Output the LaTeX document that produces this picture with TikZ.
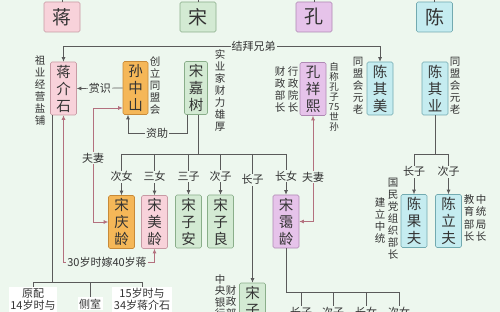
\documentclass[tikz,border=0pt]{standalone}
\usepackage{fontspec}
\setmainfont{Noto Sans CJK SC}
\usetikzlibrary{arrows.meta}
\definecolor{bg}{HTML}{EDF7EE}
\definecolor{pinkF}{HTML}{F8D2DA}
\definecolor{pinkD}{HTML}{C79AA4}
\definecolor{greenF}{HTML}{D3EAD3}
\definecolor{greenD}{HTML}{8AAE8A}
\definecolor{purF}{HTML}{E6C3EA}
\definecolor{purD}{HTML}{AE88B3}
\definecolor{cyanF}{HTML}{C5ECF0}
\definecolor{cyanD}{HTML}{72AAB0}
\definecolor{oraF}{HTML}{F5B758}
\definecolor{oraD}{HTML}{C88A38}
\definecolor{lineC}{HTML}{5A5A5A}
\definecolor{wifeC}{HTML}{B3707E}
\definecolor{txt}{HTML}{333333}
\tikzset{
  box/.style={draw, rounded corners=1.5pt, line width=0.6pt, minimum width=26pt, minimum height=53pt, inner sep=0pt, align=center, font=\fontsize{14.5}{17}\selectfont, text=txt},
  fam/.style={draw, rounded corners=1.5pt, line width=0.6pt, minimum width=36pt, minimum height=30pt, inner sep=0pt, font=\fontsize{19}{20}\selectfont, text=txt},
  pinkb/.style={fill=pinkF, draw=pinkD},
  greenb/.style={fill=greenF, draw=greenD},
  purb/.style={fill=purF, draw=purD},
  cyanb/.style={fill=cyanF, draw=cyanD},
  orab/.style={fill=oraF, draw=oraD},
  vt/.style={anchor=north, align=center, inner sep=0pt, font=\fontsize{10.5}{12}\selectfont, text=txt},
  lbl/.style={fill=bg, inner sep=1pt, font=\fontsize{11}{12}\selectfont, text=txt},
  blbl/.style={fill=white, inner sep=1.5pt, align=center, font=\fontsize{11}{12}\selectfont, text=txt},
  ln/.style={draw=lineC, line width=0.7pt},
  arr/.style={ln, -{Latex[length=4.5pt,width=4pt]}},
  twoarr/.style={ln, {Latex[length=4.5pt,width=4pt]}-{Latex[length=4.5pt,width=4pt]}},
  wife/.style={draw=wifeC, line width=0.7pt, {Latex[length=4.5pt,width=4pt]}-{Latex[length=4.5pt,width=4pt]}},
}
\begin{document}
\begin{tikzpicture}[x=1pt,y=-1pt]
\useasboundingbox (0,0) rectangle (500,312);
\clip (0,0) rectangle (500,312);
\fill[bg] (0,0) rectangle (500,312);

% family boxes
\node[fam,pinkb] (fJ) at (62,17) {蒋};
\node[fam,greenb] (fS) at (198,17) {宋};
\node[fam,purb] (fK) at (314,17) {孔};
\node[fam,cyanb] (fC) at (434.5,17) {陈};
\foreach \n in {fJ,fS,fK,fC} \draw[ln] (\n.north) -- ++(0,-4);

% second row
\node[box,pinkb] (jjs) at (63.5,88.5) {蒋\\介\\石};
\node[box,orab,minimum width=25pt] (szs) at (135.5,88) {孙\\中\\山};
\node[box,greenb,minimum width=23pt] (sjs) at (196,88) {宋\\嘉\\树};
\node[box,purb] (kxx) at (313,89) {孔\\祥\\熙};
\node[box,cyanb] (cqm) at (380,88.5) {陈\\其\\美};
\node[box,cyanb] (cqy) at (435,88.5) {陈\\其\\业};

% third row
\node[box,orab] (sql) at (121.5,222) {宋\\庆\\龄};
\node[box,pinkb] (sml) at (154.5,222) {宋\\美\\龄};
\node[box,greenb] (sza) at (188.5,221.5) {宋\\子\\安};
\node[box,greenb] (szl) at (220.5,221.5) {宋\\子\\良};
\node[box,purb] (sal) at (286,221.5) {宋\\霭\\龄};
\node[box,cyanb] (cgf) at (414,221) {陈\\果\\夫};
\node[box,cyanb] (clf) at (448.5,221) {陈\\立\\夫};
\node[box,greenb] (szw) at (252.5,309.5) {宋\\子\\文};

% vertical side texts
\node[vt] (t1) at (40,55) {祖\\业\\经\\营\\盐\\铺};
\node[vt] (t2) at (155,57) {创\\立\\同\\盟\\会};
\node[vt] (t3) at (220,49) {实\\业\\家\\财\\力\\雄\\厚};
\node[vt] (t4) at (293,66) {行\\政\\院\\长};
\node[vt] (t5) at (280,66) {财\\政\\部\\长};
\node[vt,font=\fontsize{9.5}{10}\selectfont] (t6) at (334,62) {自\\称\\孔\\子\\75\\世\\孙};
\node[vt] (t7) at (358,57) {同\\盟\\会\\元\\老};
\node[vt] (t8) at (455,57) {同\\盟\\会\\元\\老};
\node[vt] (t9) at (393,178) {国\\民\\党\\组\\织\\部\\长};
\node[vt] (t10) at (380,197) {建\\立\\中\\统};
\node[vt,font=\fontsize{10.5}{12.6}\selectfont] (t11) at (469,194) {教\\育\\部\\长};
\node[vt,font=\fontsize{10.5}{12.6}\selectfont] (t12) at (481,194) {中\\统\\局\\长};
\node[vt,font=\fontsize{10.5}{11.5}\selectfont] (t13) at (220,274) {中\\央\\银\\行\\行\\长};
\node[vt,font=\fontsize{10.5}{11.5}\selectfont] (t14) at (231,285) {财\\政\\部\\长};

% sworn brothers
\coordinate (bro) at (0,46);
\draw[twoarr] (jjs.north) -- (jjs.north |- bro) -- (cqm.north |- bro) -- (cqm.north);
\node[lbl] (lbro) at (253.5,46) {结拜兄弟};

% appreciation
\draw[arr] (szs.west) -- node[lbl] (lsx) {赏识} (jjs.east);

% funding
\coordinate (zzA) at (187,133);
\coordinate (zzB) at (128,133);
\draw[arr] (sjs.south -| zzA) -- (zzA) -- (zzB) -- (szs.south -| zzB);
\node[lbl] (lzz) at (157,133) {资助};

% Song children
\coordinate (sb) at (198,154);
\draw[ln] (sjs.south -| sb) -- (sb);
\draw[ln] (sql.north |- sb) -- (sal.north |- sb);
\draw[arr] (sql.north |- sb) -- node[lbl,pos=0.55] (lsql) {次女} (sql.north);
\draw[arr] (sml.north |- sb) -- node[lbl,pos=0.55] (lsml) {三女} (sml.north);
\draw[arr] (sza.north |- sb) -- node[lbl,pos=0.55] (lsza) {三子} (sza.north);
\draw[arr] (szl.north |- sb) -- node[lbl,pos=0.55] (lszl) {次子} (szl.north);
\draw[arr] (sal.north |- sb) -- node[lbl,pos=0.55] (lsal) {长女} (sal.north);
\draw[arr] (szw.north |- sb) -- node[lbl,pos=0.2] (lszw) {长子} (szw.north);

% Chen children
\coordinate (cb) at (435,154);
\draw[ln] (cqy.south) -- (cb);
\draw[ln] (cgf.north |- cb) -- (clf.north |- cb);
\draw[arr] (cgf.north |- cb) -- node[lbl,pos=0.44] (lcgf) {长子} (cgf.north);
\draw[arr] (clf.north |- cb) -- node[lbl,pos=0.44] (lclf) {次子} (clf.north);

% marriages
\coordinate (w1) at (93,108);
\draw[wife] (sql.west) -| (w1) -- (szs.west |- w1);
\node[lbl] (lw1) at (93,158) {夫妻};

\coordinate (w2) at (63.5,262);
\draw[wife] (jjs.south) -- (w2) -| (sml.south);
\node[lbl] (lw2) at (107,262) {30岁时嫁40岁蒋};

\draw[wife] (sal.east) -| (kxx.south);
\node[lbl] (lw3) at (313,177) {夫妻};

% Chiang wives
\coordinate (jl) at (52,282);
\draw[ln] (jjs.south -| jl) -- (jl);
\draw[ln] (33,282) -- (142,282);
\node[blbl,anchor=north] (yp) at (33,287) {原配\\14岁时与};
\node[blbl,anchor=north] (cs) at (90,297) {侧室};
\node[blbl,anchor=north] (sw) at (142,287) {15岁时与\\34岁蒋介石};
\draw[ln] (yp.north |- jl) -- (yp.north);
\draw[ln] (cs.north |- jl) -- (cs.north);
\draw[ln] (sw.north |- jl) -- (sw.north);

% Song Ailing children
\coordinate (ab) at (399,292);
\draw[ln] (sal.south) -- (sal.south |- ab) -- (ab);
\node[lbl,anchor=north] (k1) at (301,306) {长子};
\node[lbl,anchor=north] (k2) at (333,306) {次子};
\node[lbl,anchor=north] (k3) at (366,306) {长女};
\node[lbl,anchor=north] (k4) at (399,306) {次女};
\foreach \k in {k1,k2,k3,k4} \draw[ln] (\k.north |- ab) -- (\k.north);
\end{tikzpicture}
\end{document}
